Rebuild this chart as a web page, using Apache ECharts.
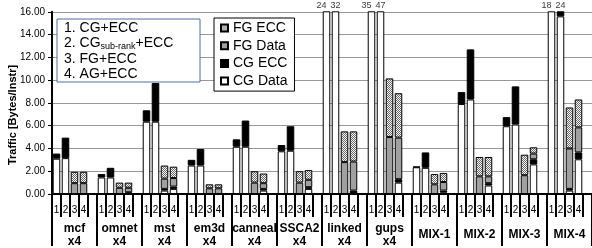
<!DOCTYPE html>
<html><head><meta charset="utf-8">
<script src="https://cdn.jsdelivr.net/npm/echarts@6/dist/echarts.min.js"></script>
<style>html,body{margin:0;padding:0;background:#fff}#c{width:592px;height:248px}</style>
</head><body><div id="c"></div>
<script>
// ---- data ----
const groups = ['mcf\nx4','omnet\nx4','mst\nx4','em3d\nx4','canneal\nx4','SSCA2\nx4','linked\nx4','gups\nx4','MIX-1','MIX-2','MIX-3','MIX-4'];
const barLabels = ['1','2','3','4',''];
const yMin = 0, yMax = 16, yStep = 2;
// four bars per group: 1. CG+ECC, 2. CGsub-rank+ECC, 3. FG+ECC, 4. AG+ECC
const cgData = [3.1,3.15,0,0, 1.45,1.45,0,0.05, 6.35,6.35,0.3,0.45, 2.5,2.5,0,0, 4.15,4.15,0,0.3, 3.75,3.8,0,0.45,
                21,21,0,0.05, 31,31,0,1.0, 2.35,2.3,0,0.15, 7.9,8.3,0,0.75, 5.95,6.1,0,2.6, 16.2,15.6,0.3,3.05];
const cgEcc  = [0.45,1.8,0,0, 0.3,0.85,0,0.1, 1.0,3.4,0.15,0.2, 0.5,1.45,0,0, 0.65,2.3,0,0.15, 0.55,2.15,0,0.15,
                3,11,0,0.25, 4,16,0,0.3, 0.05,1.35,0,0.15, 1.05,4.4,0,0.2, 0.8,3.35,0,0.45, 1.8,8.4,0.15,0.6];
const fgData = [0,0,0.95,0.95, 0,0,0.55,0.4, 0,0,0.9,0.75, 0,0,0.5,0.5, 0,0,1.0,0.5, 0,0,1.0,0.65,
                0,0,2.8,2.55, 0,0,5.0,3.65, 0,0,0.85,0.75, 0,0,1.55,0.6, 0,0,1.65,0.5, 0,0,3.55,2.2];
const fgEcc  = [0,0,1.0,1.0, 0,0,0.45,0.45, 0,0,1.15,1.0, 0,0,0.35,0.35, 0,0,1.0,0.85, 0,0,1.0,0.85,
                0,0,2.7,2.65, 0,0,5.15,3.9, 0,0,0.9,0.8, 0,0,1.7,1.7, 0,0,1.8,0.55, 0,0,3.6,2.45];

// ---- build ----
const FONT = '"Liberation Sans", Arial, sans-serif';
const cats = [];
groups.forEach(() => barLabels.forEach(l => cats.push(l)));
function expand(arr) {
  const out = [];
  for (let g = 0; g < groups.length; g++) {
    for (let b = 0; b < 4; b++) { const v = arr[g*4+b]; out.push(v === 0 ? null : v); }
    out.push(null);
  }
  return out;
}
const pc = document.createElement('canvas'); pc.width = 2; pc.height = 2;
const pctx = pc.getContext('2d');
pctx.fillStyle = '#f6f6f6'; pctx.fillRect(0,0,2,2);
pctx.fillStyle = '#6a6a6a'; pctx.fillRect(0,0,1,1); pctx.fillRect(1,1,1,1);
const hatch = { image: pc, repeat: 'repeat' };

const over = [];
for (let g = 0; g < groups.length; g++) for (let b = 0; b < 4; b++) {
  const i = g*4+b, t = cgData[i]+cgEcc[i]+fgData[i]+fgEcc[i];
  if (t > yMax) over.push({ value: [g*5+b, yMax], total: t, label: { offset: b === 0 ? [-5,0] : [0,0] } });
}

const mk = (name, arr, color) => ({
  name, type: 'bar', stack: 'all', data: expand(arr), barCategoryGap: '16%',
  itemStyle: { color, borderColor: '#000', borderWidth: 1 }, emphasis: { disabled: true }
});

const chart = echarts.init(document.getElementById('c'), null, { renderer: 'canvas' });
chart.setOption({
  animation: false,
  backgroundColor: '#fff',
  grid: { left: 52, right: -9, top: 11.8, bottom: 50.6, containLabel: false },
  xAxis: [
    { type: 'category', data: cats, position: 'bottom',
      axisLine: { show: true, lineStyle: { color: '#000', width: 2 } },
      axisTick: { show: true, interval: 0, length: 23, lineStyle: { color: '#000', width: 2 } },
      axisLabel: { interval: 0, fontSize: 10, fontFamily: FONT, color: '#000', margin: 11 } },
    { type: 'category', data: groups, position: 'bottom',
      axisLine: { show: false },
      axisTick: { show: true, interval: 0, length: 52, lineStyle: { color: '#000', width: 2 } },
      axisLabel: { interval: 0, fontSize: 12, fontWeight: 'bold', fontFamily: FONT, color: '#000',
                   lineHeight: 13, margin: 41, verticalAlign: 'middle' } }
  ],
  yAxis: { type: 'value', min: yMin, max: yMax, interval: yStep,
    axisLine: { show: true, lineStyle: { color: '#000', width: 2 } },
    axisTick: { show: true, length: 4, lineStyle: { color: '#000', width: 1 } },
    axisLabel: { fontSize: 10, fontFamily: FONT, color: '#000', margin: 7, formatter: v => v.toFixed(2) },
    splitLine: { show: true, lineStyle: { color: '#999', width: 1 } } },
  legend: { orient: 'vertical', left: 214, top: 18, data: ['FG ECC','FG Data','CG ECC','CG Data'],
    itemWidth: 7, itemHeight: 7, itemGap: 3.7, padding: [3,7,3,6], icon: 'rect',
    borderColor: '#000', borderWidth: 1, backgroundColor: '#fff', selectedMode: false,
    textStyle: { fontFamily: FONT, fontSize: 14, color: '#000', lineHeight: 14 } },
  graphic: [
    { type: 'rect', shape: { x: 57, y: 19, width: 143, height: 63 }, z: 100,
      style: { fill: '#fff', stroke: '#4a6fa5', lineWidth: 1 } },
    { type: 'text', x: 64, y: 20.5, z: 101,
      style: { text: '{m|1. CG+ECC}\n{m|2. CG}{s|sub-rank}{m|+ECC}\n{m|3. FG+ECC}\n{m|4. AG+ECC}',
        verticalAlign: 'top', align: 'left', fill: '#000',
        rich: { m: { fontSize: 14, fontFamily: FONT, lineHeight: 15.3 },
                s: { fontSize: 9, fontFamily: FONT, lineHeight: 9, verticalAlign: 'bottom' } } } },
    { type: 'text', x: 12.5, y: 115, rotation: Math.PI/2, z: 100,
      style: { text: 'Traffic [Bytes/Instr]', fontSize: 11, fontWeight: 'bold', fontFamily: FONT,
               align: 'center', verticalAlign: 'middle', fill: '#000' } }
  ],
  series: [
    mk('CG Data', cgData, '#fff'),
    mk('CG ECC', cgEcc, '#000'),
    mk('FG Data', fgData, '#a0a0a0'),
    mk('FG ECC', fgEcc, hatch),
    { type: 'scatter', data: over, symbolSize: 1, clip: false, itemStyle: { color: 'rgba(0,0,0,0)' },
      silent: true, emphasis: { disabled: true },
      label: { show: true, position: 'top', distance: 1, fontSize: 9, fontFamily: FONT, color: '#000',
               formatter: p => String(Math.round(p.data.total)) } }
  ]
});
</script></body></html>
